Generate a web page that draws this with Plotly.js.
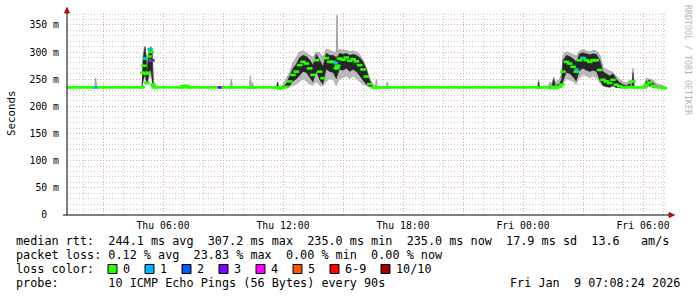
<!DOCTYPE html>
<html>
<head>
<meta charset="utf-8">
<script src="https://cdn.plot.ly/plotly-3.0.1.min.js"></script>
<style>
html,body{margin:0;padding:0;background:#fff;}
#chart{width:697px;height:297px;}
</style>
</head>
<body>
<div id="chart"></div>
<script>
// ---------------- data ----------------
const times = [
  '2026-01-08 01:12','2026-01-08 02:35','2026-01-08 02:38','2026-01-08 02:41','2026-01-08 04:57',
  '2026-01-08 05:00','2026-01-08 05:03','2026-01-08 05:06','2026-01-08 05:09','2026-01-08 05:12',
  '2026-01-08 05:15','2026-01-08 05:18','2026-01-08 05:21','2026-01-08 05:24','2026-01-08 05:27',
  '2026-01-08 05:30','2026-01-08 05:33',
  '2026-01-08 06:57','2026-01-08 07:00','2026-01-08 07:12','2026-01-08 07:15',
  '2026-01-08 09:22','2026-01-08 09:25','2026-01-08 09:28',
  '2026-01-08 10:19','2026-01-08 10:22','2026-01-08 10:25','2026-01-08 10:28','2026-01-08 10:31',
  '2026-01-08 11:41','2026-01-08 11:44','2026-01-08 11:47',
  '2026-01-08 11:50',
  '2026-01-08 12:00','2026-01-08 12:10','2026-01-08 12:20','2026-01-08 12:30','2026-01-08 12:40',
  '2026-01-08 12:50','2026-01-08 13:00','2026-01-08 13:10','2026-01-08 13:20','2026-01-08 13:30',
  '2026-01-08 13:40','2026-01-08 13:50','2026-01-08 14:00','2026-01-08 14:10','2026-01-08 14:20',
  '2026-01-08 14:30','2026-01-08 14:40','2026-01-08 14:42','2026-01-08 14:44','2026-01-08 14:50',
  '2026-01-08 15:00','2026-01-08 15:10','2026-01-08 15:20','2026-01-08 15:30','2026-01-08 15:40',
  '2026-01-08 15:50','2026-01-08 16:00','2026-01-08 16:10','2026-01-08 16:20','2026-01-08 16:30',
  '2026-01-08 16:37','2026-01-08 16:40','2026-01-08 16:43','2026-01-08 17:10','2026-01-08 17:13','2026-01-08 17:16',
  '2026-01-09 00:44','2026-01-09 00:47','2026-01-09 00:50',
  '2026-01-09 01:17','2026-01-09 01:20','2026-01-09 01:26','2026-01-09 01:32','2026-01-09 01:38',
  '2026-01-09 01:44','2026-01-09 01:50','2026-01-09 01:56',
  '2026-01-09 02:00','2026-01-09 02:10','2026-01-09 02:20','2026-01-09 02:30','2026-01-09 02:40',
  '2026-01-09 02:50','2026-01-09 03:00','2026-01-09 03:10','2026-01-09 03:20','2026-01-09 03:30',
  '2026-01-09 03:40','2026-01-09 03:50','2026-01-09 04:00','2026-01-09 04:10','2026-01-09 04:20',
  '2026-01-09 04:30','2026-01-09 04:40','2026-01-09 04:50','2026-01-09 05:00','2026-01-09 05:10',
  '2026-01-09 05:20',
  '2026-01-09 05:27','2026-01-09 05:30','2026-01-09 05:33','2026-01-09 05:40','2026-01-09 06:05',
  '2026-01-09 06:10','2026-01-09 06:20','2026-01-09 06:30','2026-01-09 06:40','2026-01-09 06:50',
  '2026-01-09 07:00','2026-01-09 07:07'
];

// median rtt, in ms
const median = [
  235,235,235,235,235,
  262,275,288,260,244,262,292,305,300,285,240,235,
  235,237.5,237.5,235,
  235,235,235,
  235,235,235,235,235,
  235,235,235,
  233,
  234,236,246,258,264,276,282,279,270,258,285,264,252,289,282,282,270,272,275,288,
  286,290,284,287,283,276,268,255,241,235,
  235,235,235,235,235,235,
  235,235,235,
  235,235,234,236,234,236,236,240,
  264,282,279,273,264,285,289,285,282,285,285,267,249,246,243,249,240,237,235,235,236,
  235,246,235,235,235,
  240,244,238,236,235,234,
  234
];

// smoke: lowest and highest of the 10 pings, in ms
const smokeMin = [
  235,235,235,235,235,
  240,245,255,242,238,245,250,255,250,245,235,235,
  235,237.5,237.5,235,
  235,235,235,
  235,235,235,235,235,
  235,235,235,
  233,
  233,233,235,238,240,245,250,245,240,238,245,238,236,245,250,248,236,240,242,250,
  252,255,250,255,250,245,240,237,235,234,
  235,235,235,235,235,235,
  235,235,235,
  235,234,233,234,233,234,234,235,
  238,250,248,245,240,252,258,255,252,255,252,242,236,235,234,236,234,233,233,233,234,
  234,235,234,235,235,
  235,236,234,234,234,234,
  234
];
const smokeMax = [
  235,235,252,235,235,
  290,305,311,295,260,290,305,309,309,305,250,235,
  235,237.5,237.5,235,
  235,250,235,
  235,256,235,245,235,
  235,245,235,
  233,
  240,250,262,280,290,300,302,298,295,290,300,298,290,305,303,300,300,368,300,305,
  303,303,300,302,300,295,285,270,250,240,
  235,250,235,235,245,235,
  235,249,235,
  235,245,240,254,244,248,250,260,
  295,300,298,295,292,302,304,302,300,303,302,295,272,268,265,262,255,250,245,243,248,
  240,270,240,235,235,
  252,250,248,242,240,238,
  234
];

// smoke: dense core of the ping distribution, in ms
const coreLo = [
  235,235,235,235,235,
  245,250,258,246,239,248,258,268,262,252,236,235,
  235,237.5,237.5,235,
  235,235,235,
  235,235,235,235,235,
  235,235,235,
  233,
  233,234,238,246,250,258,264,262,252,244,264,248,240,268,264,262,250,254,256,268,
  266,270,264,268,264,256,248,240,236,234,
  235,235,235,235,235,235,
  235,235,235,
  235,235,234,235,234,235,235,237,
  246,262,260,254,246,266,270,266,264,266,264,248,238,236,235,238,234,234,234,234,235,
  235,238,235,235,235,
  236,238,235,235,235,234,
  234
];
const coreHi = [
  235,235,235,235,235,
  288,302,309,292,256,288,303,308,308,303,248,235,
  235,237.5,237.5,235,
  235,235,235,
  235,235,235,235,235,
  235,245,235,
  233,
  236,242,256,270,278,290,294,292,286,276,296,286,274,298,294,294,290,292,292,298,
  296,298,294,296,294,290,282,268,248,236,
  235,235,235,235,235,235,
  235,245,235,
  235,238,236,250,238,240,242,250,
  284,294,292,288,282,297,299,297,295,297,296,286,264,260,256,260,250,244,240,238,242,
  236,262,236,235,235,
  246,248,243,238,236,235,
  234
];

// median samples drawn in a loss colour other than 0
const loss1Times  = ['2026-01-08 02:38','2026-01-08 05:06','2026-01-08 05:21','2026-01-08 14:38','2026-01-09 02:40','2026-01-09 02:58'];
const loss1Values = [235, 288, 305, 280, 268, 289];
const loss3Times  = ['2026-01-08 05:28','2026-01-08 08:50'];
const loss3Values = [285, 235];

// axes
const xRange = ['2026-01-08 01:12','2026-01-09 07:12'];
const xTickVals = ['2026-01-08 03:00','2026-01-08 06:00','2026-01-08 09:00','2026-01-08 12:00','2026-01-08 15:00',
                   '2026-01-08 18:00','2026-01-08 21:00','2026-01-09 00:00','2026-01-09 03:00','2026-01-09 06:00'];
const xTickText = ['','Thu 06:00','','Thu 12:00','','Thu 18:00','','Fri 00:00','','Fri 06:00'];
const yRange = [0, 372];
const yTickVals = [0,50,100,150,200,250,300,350];
const yTickText = ['0  ','50 m','100 m','150 m','200 m','250 m','300 m','350 m'];

// legend
const lossLabels = ['0','1','2','3','4','5','6-9','10/10'];
const lossColors = ['#26ff00','#00b8ff','#0059ff','#7e00ff','#ff00ff','#ff5500','#ff0000','#a10000'];
const statLine1 = 'median rtt:  244.1 ms avg  307.2 ms max  235.0 ms min  235.0 ms now  17.9 ms sd  13.6   am/s';
const statLine2 = 'packet loss: 0.12 % avg  23.83 % max  0.00 % min  0.00 % now';
const lossTitle = 'loss color:';
const probeLine = 'probe:       10 ICMP Echo Pings (56 Bytes) every 90s';
const dateLine = 'Fri Jan  9 07:08:24 2026';
const yTitle = 'Seconds';
const sideText = 'RRDTOOL / TOBI OETIKER';

// ---------------- layout helpers ----------------
const PL = 67, PR = 667, PT = 13, PB = 215;
const fx = px => (px - PL) / (PR - PL);
const fy = py => (PB - py) / (PB - PT);
const MONO = 'DejaVu Sans Mono';
const nb = s => s.replace(/ /g, '\u00a0');
const MAJOR = '#e6a4a4';
const MINOR = '#c8c8c8';
const ARROW = '#a01818';

function txt(text, px, py, o) {
  o = o || {};
  return Object.assign({
    xref:'paper', yref:'paper', x: fx(px), y: fy(py),
    xanchor:'left', yanchor:'middle', showarrow:false,
    text: nb(text), borderpad:0, borderwidth:0,
    font:{family:MONO, size:11.8, color:'#000'}
  }, o);
}

const annotations = [
  txt(statLine1, 16, 241.5),
  txt(statLine2, 16, 255.2),
  txt(lossTitle, 16, 269),
  txt(probeLine, 16, 282.7),
  txt(dateLine, 680, 282.7, {xanchor:'right'}),
  txt(yTitle, 11, 113, {xanchor:'center', textangle:-90, font:{family:MONO, size:10.8, color:'#000'}}),
  txt(sideText, 688, 60, {xanchor:'center', textangle:90, font:{family:MONO, size:8.3, color:'#b4b4b4'}})
];

const shapes = [];
const swatchX = [108,145,182,219,256,293,330,381];
lossLabels.forEach((lab, i) => {
  shapes.push({type:'rect', xref:'paper', yref:'paper',
    x0: fx(swatchX[i]), x1: fx(swatchX[i] + 9), y0: fy(273.5), y1: fy(264.5),
    fillcolor: lossColors[i], line:{color:'#000', width:1}});
  annotations.push(txt(lab, swatchX[i] + 15, 269));
});

// axis extensions and arrows (RRDtool style)
shapes.push({type:'line', xref:'paper', yref:'paper', x0:fx(63), x1:fx(669), y0:fy(215), y1:fy(215), line:{color:'#000', width:1}});
shapes.push({type:'line', xref:'paper', yref:'paper', x0:fx(67), x1:fx(67), y0:fy(215), y1:fy(11), line:{color:'#000', width:1}});
shapes.push({type:'path', xref:'paper', yref:'paper',
  path:`M ${fx(669)},${fy(212.5)} L ${fx(674.5)},${fy(215)} L ${fx(669)},${fy(217.5)} Z`,
  fillcolor:ARROW, line:{color:ARROW, width:1}});
shapes.push({type:'path', xref:'paper', yref:'paper',
  path:`M ${fx(64.5)},${fy(13)} L ${fx(67)},${fy(7.5)} L ${fx(69.5)},${fy(13)} Z`,
  fillcolor:ARROW, line:{color:ARROW, width:1}});

// median: continuous only where it stays level (RRDtool/SmokePing draws a
// short band per sample, so jumps are not joined)
const medLineX = [], medLineY = [];
for (let i = 0; i < times.length; i++) {
  medLineX.push(times[i]); medLineY.push(median[i]);
  if (i < times.length - 1 && median[i] !== median[i + 1]) { medLineX.push(times[i]); medLineY.push(null); }
}

// ---------------- traces ----------------
const traces = [
  {x:times, y:smokeMin, type:'scatter', mode:'lines', line:{width:0, color:'rgba(0,0,0,0)'}, hoverinfo:'skip'},
  {x:times, y:smokeMax, type:'scatter', mode:'lines', fill:'tonexty', fillcolor:'#bababa',
   line:{width:1, color:'#a0a0a0'}, hoverinfo:'skip'},
  {x:times, y:coreLo, type:'scatter', mode:'lines', line:{width:0, color:'rgba(0,0,0,0)'}, hoverinfo:'skip'},
  {x:times, y:coreHi, type:'scatter', mode:'lines', fill:'tonexty', fillcolor:'#262626',
   line:{width:0.5, color:'#262626'}, hoverinfo:'skip'},
  {x:medLineX, y:medLineY, type:'scatter', mode:'lines', connectgaps:false,
   line:{width:2.6, color:lossColors[0]}, hoverinfo:'skip'},
  {x:times, y:median, type:'scatter', mode:'markers',
   marker:{symbol:'line-ew', size:4, color:lossColors[0], line:{width:2.6, color:lossColors[0]}}, hoverinfo:'skip'},
  {x:loss1Times, y:loss1Values, type:'scatter', mode:'markers',
   marker:{symbol:'line-ew', size:3, color:lossColors[1], line:{width:2.6, color:lossColors[1]}}, hoverinfo:'skip'},
  {x:loss3Times, y:loss3Values, type:'scatter', mode:'markers',
   marker:{symbol:'line-ew', size:3, color:lossColors[3], line:{width:2.6, color:lossColors[3]}}, hoverinfo:'skip'}
];

const layout = {
  width:697, height:297,
  margin:{l:PL, r:697-PR, t:PT, b:297-PB, pad:0},
  paper_bgcolor:'#ffffff', plot_bgcolor:'#ffffff',
  showlegend:false,
  font:{family:MONO, size:9.8, color:'#000'},
  xaxis:{
    type:'date', range:xRange, fixedrange:true,
    tickmode:'array', tickvals:xTickVals, ticktext:xTickText,
    ticks:'', ticklabelstandoff:3,
    tickfont:{family:MONO, size:9.8, color:'#000'},
    showgrid:true, gridcolor:MAJOR, griddash:'1px,2px', gridwidth:1,
    minor:{tickmode:'linear', tick0:'2026-01-08 00:00', dtick:3600000, showgrid:true,
           gridcolor:MINOR, griddash:'1px,2px', gridwidth:1, ticks:''},
    showline:false, zeroline:false
  },
  yaxis:{
    range:yRange, fixedrange:true,
    tickmode:'array', tickvals:yTickVals, ticktext:yTickText.map(nb),
    ticks:'', ticklabelstandoff:7,
    tickfont:{family:MONO, size:9.8, color:'#000'},
    showgrid:true, gridcolor:MAJOR, griddash:'1px,2px', gridwidth:1,
    minor:{tickmode:'linear', tick0:0, dtick:10, showgrid:true,
           gridcolor:MINOR, griddash:'1px,2px', gridwidth:1, ticks:''},
    showline:false, zeroline:false
  },
  annotations:annotations,
  shapes:shapes
};

Plotly.newPlot('chart', traces, layout, {staticPlot:true, displayModeBar:false});
</script>
</body>
</html>
